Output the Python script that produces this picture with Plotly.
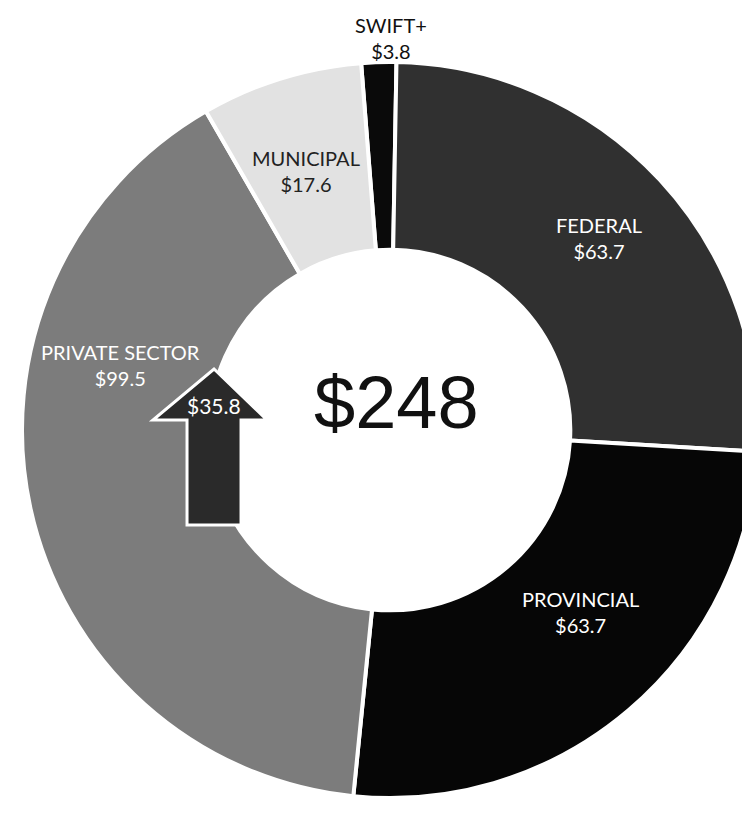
import plotly.graph_objects as go

W, H = 750, 817

# Data
categories = ["SWIFT+", "FEDERAL", "PROVINCIAL", "PRIVATE SECTOR", "MUNICIPAL"]
values = [3.8, 63.7, 63.7, 99.5, 17.6]
colors = ["#0a0a0a", "#303030", "#060606", "#7c7c7c", "#e2e2e2"]
label_colors = ["#111111", "#ffffff", "#ffffff", "#ffffff", "#222222"]
total_label = "$248"
arrow_label = "$35.8"

# label anchor positions in pixels (x from left, y from top of the page)
label_pos = [(383, 4), (591, 230), (572, 604), (112, 357), (298, 163)]
label_anchor = ["top", "middle", "middle", "middle", "middle"]


def px(x, y):
    return x / W, 1 - y / H


fig = go.Figure()

# donut: centre ~ (382, 422)
cx, cy, r = 382, 422, 368
fig.add_trace(go.Pie(
    labels=categories,
    values=values,
    sort=False,
    direction="clockwise",
    rotation=-4.5,
    hole=0.49,
    marker=dict(colors=colors, line=dict(color="white", width=4)),
    textinfo="none",
    hoverinfo="label+value",
    showlegend=False,
    domain=dict(x=[(cx - r) / W, min(1, (cx + r) / W)],
                y=[1 - (cy + r) / H, 1 - (cy - r) / H]),
))

annotations = []
for cat, val, col, (lx, ly), anc in zip(categories, values, label_colors, label_pos, label_anchor):
    ax_, ay_ = px(lx, ly)
    annotations.append(dict(
        x=ax_, y=ay_, xref="paper", yref="paper",
        text=f"{cat}<br>${val}", showarrow=False,
        font=dict(family="Lato, 'Open Sans', sans-serif", size=20, color=col),
        align="center", xanchor="center", yanchor=anc, borderpad=0,
    ))

# centre total
tx, ty = px(388, 394)
annotations.append(dict(
    x=tx, y=ty, xref="paper", yref="paper", text=total_label, showarrow=False,
    font=dict(family="Liberation Sans, Arial, sans-serif", size=74, color="#111111"),
    xanchor="center", yanchor="middle",
))

# up arrow decoration
arrow_pts = [(206, 361), (259, 412), (233, 412), (233, 517), (179, 517), (179, 412), (145, 412)]
path = "M " + " L ".join(f"{px(x, y)[0]:.4f},{px(x, y)[1]:.4f}" for x, y in arrow_pts) + " Z"
shapes = [dict(type="path", path=path, xref="paper", yref="paper",
               fillcolor="#2a2a2a", line=dict(color="white", width=3), layer="above")]

alx, aly = px(206, 398)
annotations.append(dict(
    x=alx, y=aly, xref="paper", yref="paper", text=arrow_label, showarrow=False,
    font=dict(family="Lato, 'Open Sans', sans-serif", size=21, color="#ffffff"),
    xanchor="center", yanchor="middle",
))

fig.update_layout(
    width=W, height=H,
    margin=dict(l=0, r=0, t=0, b=0),
    paper_bgcolor="white", plot_bgcolor="white",
    annotations=annotations, shapes=shapes,
)

fig.write_html("out.html")
